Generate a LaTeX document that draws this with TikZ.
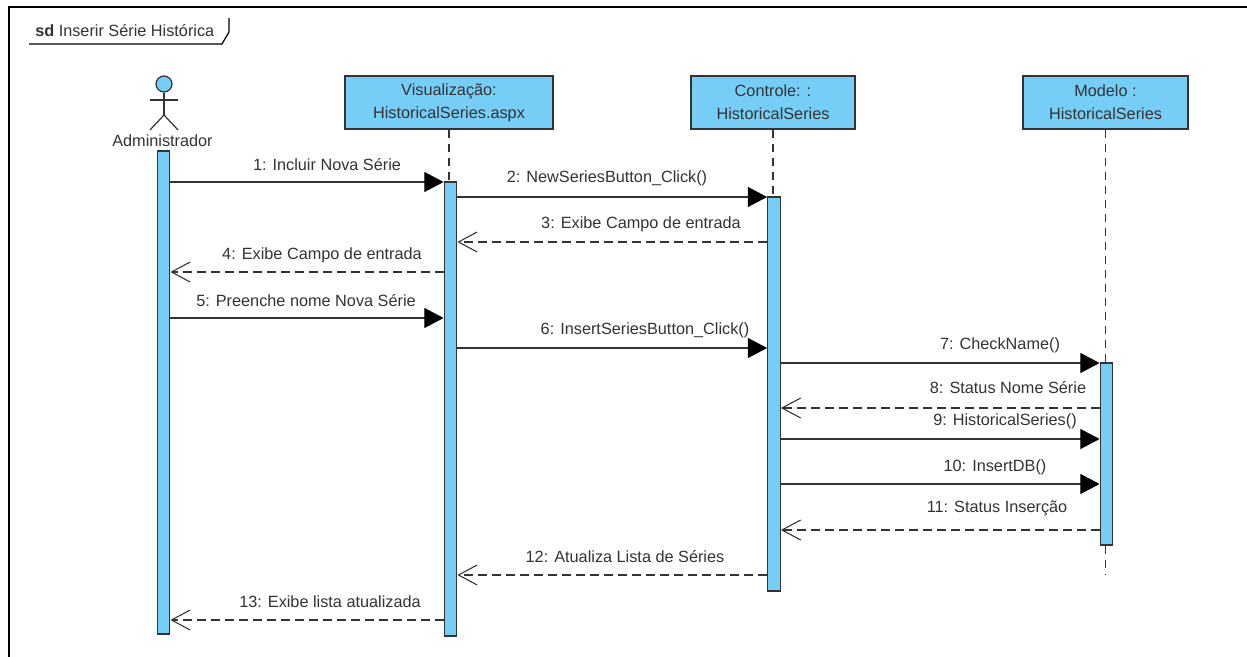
\documentclass[tikz,border=0pt]{standalone}
\usepackage{fontspec}
\setmainfont{Liberation Sans}
\usetikzlibrary{arrows.meta,calc}
\definecolor{lifeblue}{HTML}{76CEF6}
\definecolor{ink}{HTML}{333333}
\newcommand{\boxline}[1]{\raisebox{1.1pt}{#1}}
\tikzset{
  x=0.75pt,y=-0.75pt,
  lifebox/.style={draw=ink,line width=1pt,fill=lifeblue,minimum width=#1*0.75pt,minimum height=39.75pt,inner sep=0pt,align=center,text=ink,font=\fontsize{12.2pt}{17.25pt}\selectfont},
  barbox/.style={draw=ink,line width=0.9pt,fill=lifeblue,minimum width=9.4pt,inner sep=0pt,minimum height=#1*0.75pt},
  lifeline/.style={draw=ink,line width=0.9pt,dash pattern=on 6.5pt off 4pt},
  callmsg/.style={draw=ink,line width=0.9pt,-{Triangle[length=14.5pt,width=15pt,fill=black,color=black]}},
  retmsg/.style={draw=ink,line width=0.9pt,dash pattern=on 6.5pt off 4pt,-{Straight Barb[length=14pt,width=15pt,line width=0.8pt,color=ink]}},
  msgtext/.style={text=ink,inner sep=0pt,font=\fontsize{12.2pt}{14pt}\selectfont},
  framing/.style={draw=black,line width=1.1pt},
  stick/.style={draw=ink,line width=0.9pt}
}
\begin{document}
\begin{tikzpicture}
\useasboundingbox (0,0) rectangle (1247,657);
\fill[white] (0,0) rectangle (1247,657);
% frame
\coordinate (fbl) at (9,657);
\coordinate (ftl) at (9,7);
\coordinate (ftr) at (1247,7);
\draw[framing] (fbl) -- (ftl) -- (ftr);
\node[anchor=west,inner sep=0pt,text=ink,font=\fontsize{12.2pt}{14pt}\selectfont] (title) at (35,31) {\textbf{sd} Inserir Série Histórica};
\coordinate (t1) at (29,44); \coordinate (t2) at (222,44); \coordinate (t3) at (229,32); \coordinate (t4) at (229,18);
\draw[framing,line width=0.9pt] (t1) -- (t2) -- (t3) -- (t4);
% lifeline heads
\node[lifebox=208] (vis) at (449,102.5) {\boxline{Visualização:}\\\boxline{HistoricalSeries.aspx}};
\node[lifebox=164] (con) at (773,102.5) {\boxline{Controle: :}\\\boxline{HistoricalSeries}};
\node[lifebox=165] (mod) at (1105.5,102.5) {\boxline{Modelo :}\\\boxline{HistoricalSeries}};
% actor
\node[circle,draw=ink,line width=0.9pt,fill=lifeblue,minimum size=16*0.75pt,inner sep=0pt] (head) at (164,84) {};
\coordinate (hip) at (164,115);
\coordinate (armL) at (150,100); \coordinate (armR) at (178,100);
\coordinate (legL) at (150,130); \coordinate (legR) at (178,130);
\draw[stick] (head.south) -- (hip);
\draw[stick] (armL) -- (armR);
\draw[stick] (legL) -- (hip) -- (legR);
\node[msgtext] (actorname) at (162.5,141) {Administrador};
% activation bars
\node[barbox=483] (ba) at (163.5,392.5) {};
\node[barbox=454] (bv) at (450.5,409) {};
\node[barbox=394] (bc) at (774,394) {};
\node[barbox=182] (bm) at (1106.5,454) {};
% lifelines
\coordinate (modend) at (1105.5,574);
\draw[lifeline] (vis.south) -- (vis.south |- bv.north);
\draw[lifeline] (con.south) -- (con.south |- bc.north);
\draw[lifeline] (mod.south) -- (mod.south |- bm.north);
\draw[lifeline] (mod.south |- bm.south) -- (modend);
% message rows
\coordinate (y1) at (0,182); \coordinate (y2) at (0,197); \coordinate (y3) at (0,242);
\coordinate (y4) at (0,272); \coordinate (y5) at (0,318); \coordinate (y6) at (0,348);
\coordinate (y7) at (0,363); \coordinate (y8) at (0,408); \coordinate (y9) at (0,439);
\coordinate (y10) at (0,484); \coordinate (y11) at (0,530); \coordinate (y12) at (0,575);
\coordinate (y13) at (0,620);
\draw[callmsg] (ba.east |- y1) -- (bv.west |- y1);
\draw[callmsg] (bv.east |- y2) -- (bc.west |- y2);
\draw[retmsg] (bc.west |- y3) -- (bv.east |- y3);
\draw[retmsg] (bv.west |- y4) -- (ba.east |- y4);
\draw[callmsg] (ba.east |- y5) -- (bv.west |- y5);
\draw[callmsg] (bv.east |- y6) -- (bc.west |- y6);
\draw[callmsg] (bc.east |- y7) -- (bm.west |- y7);
\draw[retmsg] (bm.west |- y8) -- (bc.east |- y8);
\draw[callmsg] (bc.east |- y9) -- (bm.west |- y9);
\draw[callmsg] (bc.east |- y10) -- (bm.west |- y10);
\draw[retmsg] (bm.west |- y11) -- (bc.east |- y11);
\draw[retmsg] (bc.west |- y12) -- (bv.east |- y12);
\draw[retmsg] (bv.west |- y13) -- (ba.east |- y13);
% labels
\node[msgtext] (m1) at (327,165) {1: Incluir Nova Série};
\node[msgtext] (m2) at (607,178) {2: NewSeriesButton\_Click()};
\node[msgtext] (m3) at (641,224) {3: Exibe Campo de entrada};
\node[msgtext] (m4) at (322,255) {4: Exibe Campo de entrada};
\node[msgtext] (m5) at (306,301) {5: Preenche nome Nova Série};
\node[msgtext] (m6) at (645,330) {6: InsertSeriesButton\_Click()};
\node[msgtext] (m7) at (1000,345) {7: CheckName()};
\node[msgtext] (m8) at (1008,388) {8: Status Nome Série};
\node[msgtext] (m9) at (1005,421) {9: HistoricalSeries()};
\node[msgtext] (m10) at (995,467) {10: InsertDB()};
\node[msgtext] (m11) at (997,508) {11: Status Inserção};
\node[msgtext] (m12) at (625,557) {12: Atualiza Lista de Séries};
\node[msgtext] (m13) at (330,602) {13: Exibe lista atualizada};
\end{tikzpicture}
\end{document}
